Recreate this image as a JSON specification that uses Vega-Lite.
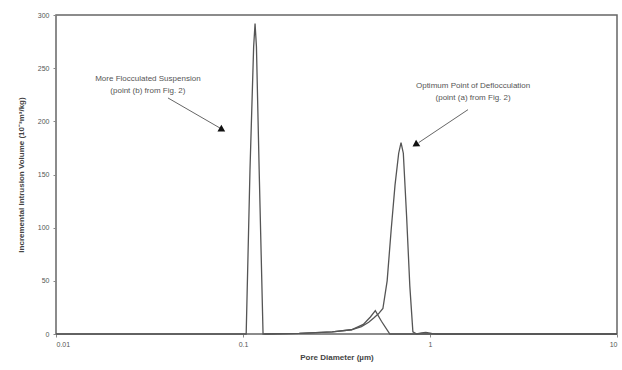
{
  "$schema": "https://vega.github.io/schema/vega-lite/v6.json",
  "width": 561,
  "height": 319,
  "autosize": "none",
  "padding": {"left": 56, "top": 15, "right": 5, "bottom": 36},
  "background": "white",
  "config": {
    "view": {"stroke": "#666", "strokeWidth": 1.5},
    "font": "Liberation Sans"
  },
  "datasets": {
    "curves": [
      {"series": "A", "d": 0.01, "v": 0},
      {"series": "A", "d": 0.1, "v": 0},
      {"series": "A", "d": 0.104, "v": 0},
      {"series": "A", "d": 0.109, "v": 155},
      {"series": "A", "d": 0.114, "v": 270},
      {"series": "A", "d": 0.116, "v": 292},
      {"series": "A", "d": 0.118, "v": 270},
      {"series": "A", "d": 0.122, "v": 155},
      {"series": "A", "d": 0.128, "v": 0},
      {"series": "A", "d": 0.2, "v": 0.5},
      {"series": "A", "d": 0.3, "v": 2},
      {"series": "A", "d": 0.38, "v": 4},
      {"series": "A", "d": 0.44, "v": 9},
      {"series": "A", "d": 0.48, "v": 16},
      {"series": "A", "d": 0.51, "v": 22},
      {"series": "A", "d": 0.55, "v": 12},
      {"series": "A", "d": 0.61, "v": 0},
      {"series": "A", "d": 10, "v": 0},
      {"series": "B", "d": 0.13, "v": 0},
      {"series": "B", "d": 0.2, "v": 0.5},
      {"series": "B", "d": 0.3, "v": 2},
      {"series": "B", "d": 0.38, "v": 4},
      {"series": "B", "d": 0.43, "v": 7},
      {"series": "B", "d": 0.47, "v": 11},
      {"series": "B", "d": 0.5, "v": 15},
      {"series": "B", "d": 0.53, "v": 19},
      {"series": "B", "d": 0.56, "v": 24},
      {"series": "B", "d": 0.59, "v": 50},
      {"series": "B", "d": 0.62, "v": 98},
      {"series": "B", "d": 0.65, "v": 140},
      {"series": "B", "d": 0.68, "v": 170},
      {"series": "B", "d": 0.7, "v": 180},
      {"series": "B", "d": 0.72, "v": 170},
      {"series": "B", "d": 0.75, "v": 110},
      {"series": "B", "d": 0.78, "v": 45},
      {"series": "B", "d": 0.81, "v": 2},
      {"series": "B", "d": 0.85, "v": 0},
      {"series": "B", "d": 0.9, "v": 1},
      {"series": "B", "d": 0.95, "v": 1.5},
      {"series": "B", "d": 1.02, "v": 0.5},
      {"series": "B", "d": 1.1, "v": 0},
      {"series": "B", "d": 10, "v": 0}
    ],
    "labels": [
      {"d": 0.031, "v": 240, "t": ["More Flocculated Suspension", "(point (b) from Fig. 2)"]},
      {"d": 1.7, "v": 233, "t": ["Optimum Point of Deflocculation", "(point (a) from Fig. 2)"]}
    ],
    "arrows": [
      {"d": 0.0397, "v": 222, "d2": 0.0765, "v2": 193, "hd": 0.0775, "hv": 192, "a": 120},
      {"d": 1.597, "v": 211, "d2": 0.87, "v2": 180, "hd": 0.835, "hv": 178, "a": 237}
    ]
  },
  "layer": [
    {
      "data": {"name": "curves"},
      "mark": {"type": "line", "color": "#555", "strokeWidth": 1.3},
      "encoding": {
        "x": {
          "field": "d", "type": "quantitative",
          "scale": {"type": "log", "domain": [0.01, 10]},
          "axis": {
            "title": "Pore Diameter (\u00b5m)",
            "values": [0.01, 0.1, 1, 10],
            "format": "~g",
            "grid": false,
            "domain": false,
            "tickColor": "#888",
            "tickSize": 3,
            "labelFontSize": 7,
            "labelColor": "#555",
            "labelPadding": 3,
            "titleFontSize": 8,
            "titleColor": "#444",
            "titleFontWeight": "bold",
            "titlePadding": 6
          }
        },
        "y": {
          "field": "v", "type": "quantitative",
          "scale": {"domain": [0, 300], "nice": false},
          "axis": {
            "title": "Incremental Intrusion Volume (10\u207b\u00b3m\u00b3/kg)",
            "values": [0, 50, 100, 150, 200, 250, 300],
            "grid": false,
            "domain": false,
            "tickColor": "#888",
            "tickSize": 3,
            "labelFontSize": 7,
            "labelColor": "#555",
            "labelPadding": 4,
            "titleFontSize": 8,
            "titleColor": "#444",
            "titleFontWeight": "bold",
            "titlePadding": 12
          }
        },
        "detail": {"field": "series"}
      }
    },
    {
      "data": {"name": "labels"},
      "mark": {"type": "text", "fontSize": 8, "color": "#555", "align": "center", "baseline": "middle", "lineHeight": 12},
      "encoding": {
        "x": {"field": "d", "type": "quantitative"},
        "y": {"field": "v", "type": "quantitative"},
        "text": {"field": "t"}
      }
    },
    {
      "data": {"name": "arrows"},
      "mark": {"type": "rule", "color": "#666", "strokeWidth": 1},
      "encoding": {
        "x": {"field": "d", "type": "quantitative"},
        "y": {"field": "v", "type": "quantitative"},
        "x2": {"field": "d2"},
        "y2": {"field": "v2"}
      }
    },
    {
      "data": {"name": "arrows"},
      "mark": {"type": "point", "shape": "triangle-up", "filled": true, "color": "#111", "size": 60, "opacity": 1},
      "encoding": {
        "x": {"field": "hd", "type": "quantitative"},
        "y": {"field": "hv", "type": "quantitative"},
        "angle": {"field": "a", "type": "quantitative", "scale": null}
      }
    }
  ]
}
